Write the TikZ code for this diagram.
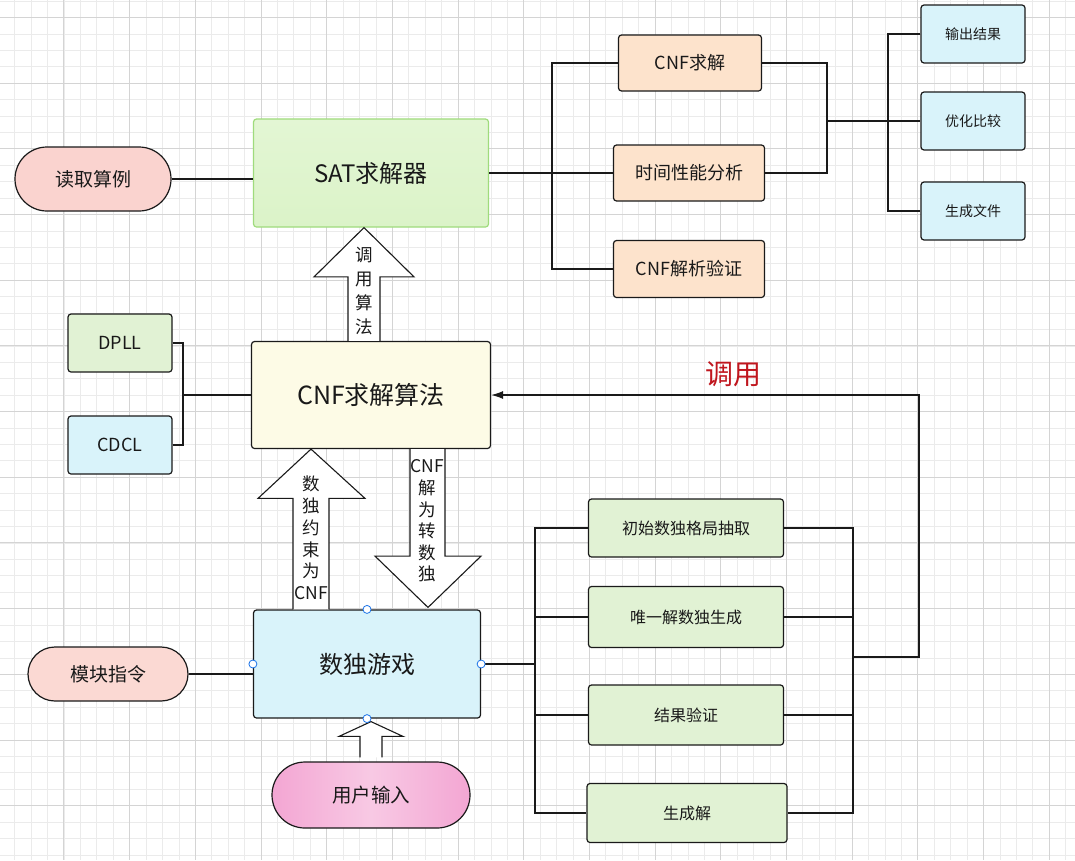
\documentclass[tikz,border=0pt]{standalone}
\usepackage{fontspec}
\setmainfont{Noto Sans CJK SC}
\usetikzlibrary{arrows.meta,shapes.misc,calc}
\definecolor{gridminor}{HTML}{EBEBEB}
\definecolor{gridmajor}{HTML}{D4D4D4}
\definecolor{pinkA}{HTML}{FAD3CF}
\definecolor{pinkB}{HTML}{FBD9D3}
\definecolor{pinkCdark}{HTML}{F3A6D3}
\definecolor{pinkClight}{HTML}{F8C9E4}
\definecolor{satfill}{HTML}{DBF3C8}
\definecolor{satfilltop}{HTML}{E3F6D4}
\definecolor{satborder}{HTML}{9FDB7C}
\definecolor{peach}{HTML}{FDE3CC}
\definecolor{lblue}{HTML}{D9F3FA}
\definecolor{lgreen}{HTML}{E1F2D4}
\definecolor{lyellow}{HTML}{FDFBE6}
\definecolor{redtxt}{HTML}{C0161E}
\definecolor{selblue}{HTML}{1A73E8}
\definecolor{edge}{HTML}{1A1A1A}
\tikzset{
  gridmin/.style={draw=gridminor, line width=0.6pt},
  gridmaj/.style={draw=gridmajor, line width=0.8pt},
  boxstyle/.style={draw=edge, line width=1.2pt, rounded corners=3pt, align=center, inner sep=0pt, text=black!90},
  pillstyle/.style={draw=edge, line width=1.2pt, rounded rectangle, align=center, inner sep=0pt, text=black!90},
  conn/.style={draw=edge, line width=1.2pt},
  blockarrow/.style={fill=white, draw=edge, line width=1.1pt, line join=miter},
  arrowtext/.style={align=center, inner sep=0pt, text=black!90},
  selpt/.style={circle, draw=selblue, fill=white, line width=0.8pt, minimum size=8pt, inner sep=0pt},
}
\begin{document}
\begin{tikzpicture}[x=1pt,y=-1pt]
\fill[white] (0,0) rectangle (1075,860);
\useasboundingbox (0,0) rectangle (1075,860);
% grid
\foreach \k in {0,...,66} {\draw[gridmin] ({16.42*\k-1.8},0) -- ({16.42*\k-1.8},860);}
\foreach \k in {0,...,52} {\draw[gridmin] (0,{16.42*\k+1}) -- (1075,{16.42*\k+1});}
\foreach \k in {0,4,...,64} {\draw[gridmaj] ({16.42*\k-1.8},0) -- ({16.42*\k-1.8},860);}
\foreach \k in {1,5,...,49} {\draw[gridmaj] (0,{16.42*\k+1}) -- (1075,{16.42*\k+1});}

% nodes
\node[pillstyle, fill=pinkA, minimum width=156pt, minimum height=64pt, font=\fontsize{19}{23}\selectfont] (read) at (93,179) {读取算例};
\node[boxstyle, draw=satborder, top color=satfilltop, bottom color=satfill, minimum width=235pt, minimum height=108pt, font=\fontsize{24}{28}\selectfont] (sat) at (371,173) {SAT求解器};
\node[boxstyle, fill=peach, minimum width=143pt, minimum height=56pt, font=\fontsize{18}{22}\selectfont] (cnfs) at (690,63) {CNF求解};
\node[boxstyle, fill=peach, minimum width=151pt, minimum height=56pt, font=\fontsize{18}{22}\selectfont] (time) at (689,173) {时间性能分析};
\node[boxstyle, fill=peach, minimum width=151pt, minimum height=57pt, font=\fontsize{18}{22}\selectfont] (parse) at (689,269) {CNF解析验证};
\node[boxstyle, fill=lblue, minimum width=104pt, minimum height=58pt, font=\fontsize{14}{17}\selectfont] (out) at (973,34) {输出结果};
\node[boxstyle, fill=lblue, minimum width=104pt, minimum height=58pt, font=\fontsize{14}{17}\selectfont] (opt) at (973,121) {优化比较};
\node[boxstyle, fill=lblue, minimum width=104pt, minimum height=58pt, font=\fontsize{14}{17}\selectfont] (gen) at (973,211) {生成文件};
\node[boxstyle, fill=lgreen, minimum width=104pt, minimum height=58pt, font=\fontsize{18}{22}\selectfont] (dpll) at (120,343) {DPLL};
\node[boxstyle, fill=lblue, minimum width=104pt, minimum height=58pt, font=\fontsize{18}{22}\selectfont] (cdcl) at (120,445) {CDCL};
\node[boxstyle, fill=lyellow, minimum width=239pt, minimum height=107pt, font=\fontsize{25}{29}\selectfont] (alg) at (371,395) {CNF求解算法};
\node[boxstyle, fill=lblue, minimum width=227pt, minimum height=108pt, font=\fontsize{24}{28}\selectfont] (sudoku) at (367,664) {数独游戏};
\node[pillstyle, fill=pinkB, minimum width=160pt, minimum height=54pt, font=\fontsize{19}{23}\selectfont] (cmd) at (108,674) {模块指令};
\node[pillstyle, left color=pinkCdark, right color=pinkCdark, middle color=pinkClight, minimum width=198pt, minimum height=66pt, font=\fontsize{19.5}{23}\selectfont] (user) at (371,795) {用户输入};
\node[boxstyle, fill=lgreen, minimum width=195pt, minimum height=58pt, font=\fontsize{16}{19}\selectfont] (g1) at (686,528) {初始数独格局抽取};
\node[boxstyle, fill=lgreen, minimum width=195pt, minimum height=61pt, font=\fontsize{16}{19}\selectfont] (g2) at (686,617) {唯一解数独生成};
\node[boxstyle, fill=lgreen, minimum width=195pt, minimum height=60pt, font=\fontsize{16}{19}\selectfont] (g3) at (686,715) {结果验证};
\node[boxstyle, fill=lgreen, minimum width=200pt, minimum height=59pt, font=\fontsize{16}{19}\selectfont] (g4) at (687,813) {生成解};

% junction coordinates
\coordinate (j1) at (552,173);
\coordinate (j2) at (827,121);
\coordinate (j3) at (888,121);
\coordinate (j4) at (183,395);
\coordinate (j5) at (535,664);
\coordinate (j6) at (853,657);
\coordinate (j7) at (919,657);

% connectors
\draw[conn] (read.east) -- (sat.west |- read.east);
\draw[conn] (sat.east |- j1) -- (j1);
\draw[conn] (cnfs.west) -| (j1) |- (parse.west);
\draw[conn] (j1) -- (time.west);
\draw[conn] (cnfs.east) -| (j2);
\draw[conn] (time.east) -| (j2);
\draw[conn] (j2) -- (opt.west);
\draw[conn] (out.west) -| (j3) |- (gen.west);
\draw[conn] (dpll.east) -| (j4);
\draw[conn] (cdcl.east) -| (j4);
\draw[conn] (j4) -- (alg.west);
\draw[conn] (cmd.east) -- (sudoku.west |- cmd.east);
\draw[conn] (sudoku.east) -- (j5);
\draw[conn] (g1.west) -| (j5) |- (g4.west);
\draw[conn] (g2.west) -- (g2.west -| j5);
\draw[conn] (g3.west) -- (g3.west -| j5);
\draw[conn] (g1.east) -| (j6) |- (g4.east);
\draw[conn] (g2.east) -- (g2.east -| j6);
\draw[conn] (g3.east) -- (g3.east -| j6);
\draw[conn, -{Latex[length=12pt,width=8pt]}] (j6) -- (j7) |- (alg.east);
\node[text=redtxt, font=\fontsize{28}{32}\selectfont, inner sep=0pt] (calllbl) at (733,374) {调用};

% block arrows
\path[blockarrow] ($(alg.north)+(-23,0)$) -- ($(alg.north)+(-23,-64)$) -- ($(alg.north)+(-57,-64)$)
  -- ($(sat.south)+(-7,0)$) -- ($(alg.north)+(43,-64)$) -- ($(alg.north)+(9,-64)$) -- ($(alg.north)+(9,0)$);
\path[blockarrow] ($(sudoku.north)+(-74,0)$) -- ($(sudoku.north)+(-74,-111)$) -- ($(sudoku.north)+(-109,-111)$)
  -- ($(alg.south)+(-60,0)$) -- ($(sudoku.north)+(-2,-111)$) -- ($(sudoku.north)+(-38,-111)$) -- ($(sudoku.north)+(-38,0)$);
\path[blockarrow] ($(alg.south)+(39,0)$) -- ($(alg.south)+(39,107)$) -- ($(alg.south)+(4,107)$)
  -- ($(sudoku.north)+(61,-2)$) -- ($(alg.south)+(110,107)$) -- ($(alg.south)+(74,107)$) -- ($(alg.south)+(74,0)$);
\path[blockarrow] ($(user.north)+(-11,-4)$) -- ($(user.north)+(-11,-25)$) -- ($(user.north)+(-32,-25)$)
  -- ($(sudoku.south)+(4,3)$) -- ($(user.north)+(32,-25)$) -- ($(user.north)+(11,-25)$) -- ($(user.north)+(11,-4)$);

\node[arrowtext, font=\fontsize{17.5}{24.3}\selectfont] (t1) at (364,291) {调\\用\\算\\法};
\node[arrowtext, font=\fontsize{17.5}{21.8}\selectfont] (t2) at (311,538) {数\\独\\约\\束\\为\\CNF};
\node[arrowtext, font=\fontsize{17.5}{21.6}\selectfont] (t3) at (427,521) {CNF\\解\\为\\转\\数\\独};

% selection points
\node[selpt] (s1) at (sudoku.north) {};
\node[selpt] (s2) at (sudoku.south) {};
\node[selpt] (s3) at (sudoku.west) {};
\node[selpt] (s4) at (sudoku.east) {};
\end{tikzpicture}
\end{document}
